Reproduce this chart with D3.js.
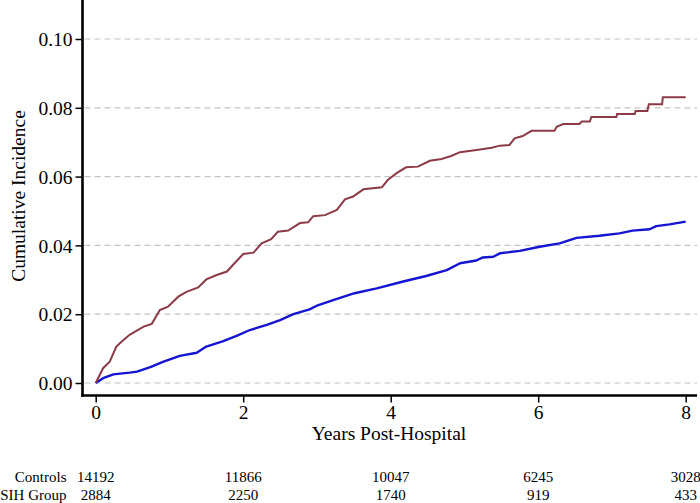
<!DOCTYPE html>
<html>
<head>
<meta charset="utf-8">
<script src="https://cdn.jsdelivr.net/npm/d3@7"></script>
<style>
  html, body { margin: 0; padding: 0; background: #fff; }
  svg { display: block; }
  text { font-family: "Liberation Serif", "Times New Roman", serif; fill: #000; }
</style>
</head>
<body>
<svg id="chart" width="700" height="503"></svg>
<script>
// ---- Data ----
const yTicks = [0.00, 0.02, 0.04, 0.06, 0.08, 0.10];
const xTicks = [0, 2, 4, 6, 8];
const riskGroups = ["Controls", "SIH Group"];
const riskControls = [14192, 11866, 10047, 6245, 3028];
const riskSIH = [2884, 2250, 1740, 919, 433];

// SIH group cumulative incidence (years, value)
const sihTime = [0, 0.10, 0.19, 0.28, 0.35, 0.46, 0.65, 0.76, 0.87, 0.98, 1.12, 1.23, 1.39, 1.50, 1.64, 1.78, 1.86, 2.00, 2.14, 2.25, 2.38, 2.47, 2.61, 2.77, 2.88, 2.95, 3.11, 3.27, 3.38, 3.49, 3.63, 3.88, 3.96, 4.08, 4.21, 4.37, 4.53, 4.69, 4.82, 4.94, 5.21, 5.37, 5.48, 5.61, 5.68, 5.79, 5.91, 6.22, 6.25, 6.34, 6.56, 6.59, 6.70, 6.72, 7.06, 7.07, 7.31, 7.32, 7.48, 7.50, 7.68, 7.69, 8.00];
const sihValue = [0, 0.0043, 0.0062, 0.0106, 0.0120, 0.0140, 0.0164, 0.0172, 0.0212, 0.0222, 0.0251, 0.0265, 0.0278, 0.0301, 0.0314, 0.0324, 0.0343, 0.0375, 0.0379, 0.0406, 0.0418, 0.0440, 0.0443, 0.0465, 0.0467, 0.0485, 0.0488, 0.0503, 0.0534, 0.0542, 0.0563, 0.0569, 0.0590, 0.0610, 0.0627, 0.0629, 0.0646, 0.0651, 0.0660, 0.0671, 0.0679, 0.0684, 0.0690, 0.0692, 0.0711, 0.0718, 0.0733, 0.0733, 0.0745, 0.0753, 0.0753, 0.0760, 0.0760, 0.0773, 0.0773, 0.0782, 0.0782, 0.0791, 0.0791, 0.0810, 0.0810, 0.0831, 0.0831];

// Controls cumulative incidence (years, value)
const ctlTime = [0, 0.10, 0.24, 0.46, 0.56, 0.74, 0.92, 1.14, 1.37, 1.50, 1.73, 1.91, 2.09, 2.32, 2.50, 2.68, 2.90, 2.99, 3.22, 3.51, 3.81, 4.17, 4.48, 4.76, 4.94, 5.16, 5.25, 5.39, 5.48, 5.75, 6.02, 6.29, 6.52, 6.83, 7.10, 7.28, 7.51, 7.60, 7.78, 8.00];
const ctlValue = [0, 0.0014, 0.0025, 0.0030, 0.0033, 0.0046, 0.0062, 0.0079, 0.0088, 0.0106, 0.0122, 0.0137, 0.0154, 0.0169, 0.0183, 0.0200, 0.0214, 0.0224, 0.0241, 0.0261, 0.0275, 0.0295, 0.0311, 0.0328, 0.0348, 0.0356, 0.0365, 0.0367, 0.0377, 0.0384, 0.0396, 0.0406, 0.0422, 0.0428, 0.0435, 0.0443, 0.0447, 0.0456, 0.0461, 0.0469];

// ---- Layout ----
const svg = d3.select("#chart");
const x = d3.scaleLinear().domain([0, 8]).range([95.7, 685.7]);
const y = d3.scaleLinear().domain([0, 0.10]).range([383, 39]);
const axisLeftX = 82.5;
const axisBottomY = 395.5;
const plotRight = 697;
const tickFont = "19.5px";

// grid lines
svg.append("g").selectAll("line").data(yTicks).join("line")
  .attr("x1", axisLeftX + 2).attr("x2", plotRight)
  .attr("y1", d => y(d)).attr("y2", d => y(d))
  .attr("stroke", "#c4c4c4").attr("stroke-width", 1.2)
  .attr("stroke-dasharray", "6,4");

// lines
const line = d3.line().x(d => x(d[0])).y(d => y(d[1])).curve(d3.curveLinear);
const sihData = sihTime.map((t, i) => [t, sihValue[i]]);
const ctlData = ctlTime.map((t, i) => [t, ctlValue[i]]);

svg.append("path").datum(ctlData).attr("d", line)
  .attr("fill", "none").attr("stroke", "#1414d2").attr("stroke-width", 2.4)
  .attr("stroke-linejoin", "round");
svg.append("path").datum(sihData).attr("d", line)
  .attr("fill", "none").attr("stroke", "#8c3a46").attr("stroke-width", 2)
  .attr("stroke-linejoin", "miter");

// y axis
const yAxis = d3.axisLeft(y).tickValues(yTicks).tickFormat(d3.format(".2f")).tickSize(7).tickPadding(3);
const gy = svg.append("g").attr("transform", `translate(${axisLeftX},0)`).call(yAxis);
gy.select(".domain").remove();
gy.selectAll(".tick line").attr("stroke", "#000").attr("stroke-width", 1.5);
gy.selectAll(".tick text").style("font-family", "Liberation Serif").style("font-size", tickFont).attr("dy", "0.34em");
svg.append("line").attr("x1", axisLeftX).attr("x2", axisLeftX).attr("y1", 0).attr("y2", axisBottomY + 1.2)
  .attr("stroke", "#000").attr("stroke-width", 2.6);

// x axis
const xAxis = d3.axisBottom(x).tickValues(xTicks).tickFormat(d3.format("d")).tickSize(7).tickPadding(3);
const gx = svg.append("g").attr("transform", `translate(0,${axisBottomY})`).call(xAxis);
gx.select(".domain").remove();
gx.selectAll(".tick line").attr("stroke", "#000").attr("stroke-width", 1.5);
gx.selectAll(".tick text").style("font-family", "Liberation Serif").style("font-size", tickFont).attr("dy", "0.71em");
svg.append("line").attr("x1", axisLeftX - 1.3).attr("x2", plotRight).attr("y1", axisBottomY).attr("y2", axisBottomY)
  .attr("stroke", "#000").attr("stroke-width", 2.6);

// axis titles
svg.append("text").attr("x", 389).attr("y", 440).attr("text-anchor", "middle")
  .style("font-size", "19.5px").text("Years Post-Hospital");
svg.append("text").attr("transform", "translate(25,196) rotate(-90)").attr("text-anchor", "middle")
  .style("font-size", "19.5px").text("Cumulative Incidence");

// number at risk table
const riskRows = [riskControls, riskSIH];
const rowY = [482, 499.5];
riskRows.forEach((row, r) => {
  svg.append("text").attr("x", 66.5).attr("y", rowY[r]).attr("text-anchor", "end")
    .style("font-size", "15px").text(riskGroups[r]);
  svg.append("g").selectAll("text").data(row).join("text")
    .attr("x", (d, i) => x(xTicks[i])).attr("y", rowY[r]).attr("text-anchor", "middle")
    .style("font-size", "15px").text(d => d);
});
</script>
</body>
</html>
